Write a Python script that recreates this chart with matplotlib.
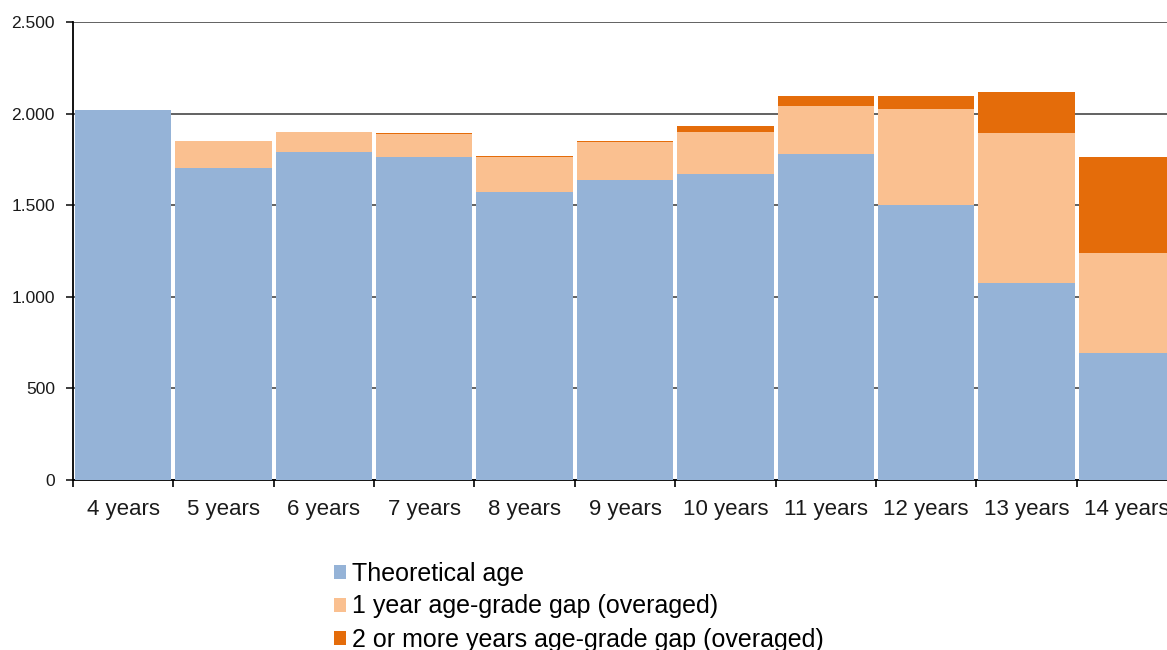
from matplotlib import pyplot as plt
from matplotlib.ticker import FuncFormatter, FixedLocator
import numpy as np

plt.rcParams['font.family'] = ['Liberation Sans', 'DejaVu Sans']

# data
ages = ['4 years', '5 years', '6 years', '7 years', '8 years', '9 years',
        '10 years', '11 years', '12 years', '13 years', '14 years']
theoretical = [2020, 1705, 1789, 1761, 1572, 1637, 1670, 1779, 1499, 1075, 693]
gap_one = [0, 147, 112, 126, 191, 206, 231, 264, 528, 821, 548]
gap_two = [0, 0, 0, 7, 7, 9, 33, 51, 67, 222, 520]

labels = ['Theoretical age', '1 year age-grade gap (overaged)',
          '2 or more years age-grade gap (overaged)']
colors = ['#95B3D7', '#FAC090', '#E46C0A']


def main():
	fig = plt.figure(figsize=(11.67, 6.5), dpi=100)
	ax = fig.add_axes([73/1167, 170/650, 1104/1167, 458/650])

	x = np.arange(len(ages))
	bottom2 = np.array(theoretical) + np.array(gap_one)
	w = 0.96
	ax.bar(x, theoretical, w, color=colors[0], label=labels[0], zorder=3)
	ax.bar(x, gap_one, w, bottom=theoretical, color=colors[1], label=labels[1], zorder=3)
	ax.bar(x, gap_two, w, bottom=bottom2, color=colors[2], label=labels[2], zorder=3)

	ax.set_xlim(-0.5, len(ages) - 0.5)
	ax.set_ylim(0, 2500)
	ax.set_yticks(np.arange(0, 2501, 500))
	ax.yaxis.set_major_formatter(FuncFormatter(lambda v, p: '{:,.0f}'.format(v).replace(',', '.')))
	ax.grid(axis='y', color='#555555', linewidth=1.3, zorder=0)

	ax.set_xticks(x)
	ax.set_xticklabels(ages)
	ax.xaxis.set_minor_locator(FixedLocator(np.arange(-0.5, len(ages), 1)))
	ax.tick_params(axis='x', which='major', length=0, pad=14, labelsize=16, colors='#1a1a1a')
	ax.tick_params(axis='x', which='minor', length=5, width=1.2, color='black')
	ax.tick_params(axis='y', length=5, width=1.2, pad=8, labelsize=12.5, colors='#1a1a1a')

	for s in ['top', 'right']:
		ax.spines[s].set_visible(False)
	ax.spines['left'].set_linewidth(1.3)
	ax.spines['bottom'].set_linewidth(1.3)

	fig.legend(loc='upper left', bbox_to_anchor=(321/1167, 1 - 549/650), frameon=False,
	           fontsize=18, handlelength=0.5, handleheight=0.5, handletextpad=0.25,
	           labelspacing=0.36, borderpad=0)

	fig.savefig('out.png', dpi=100)


if __name__ == "__main__":
	main()
